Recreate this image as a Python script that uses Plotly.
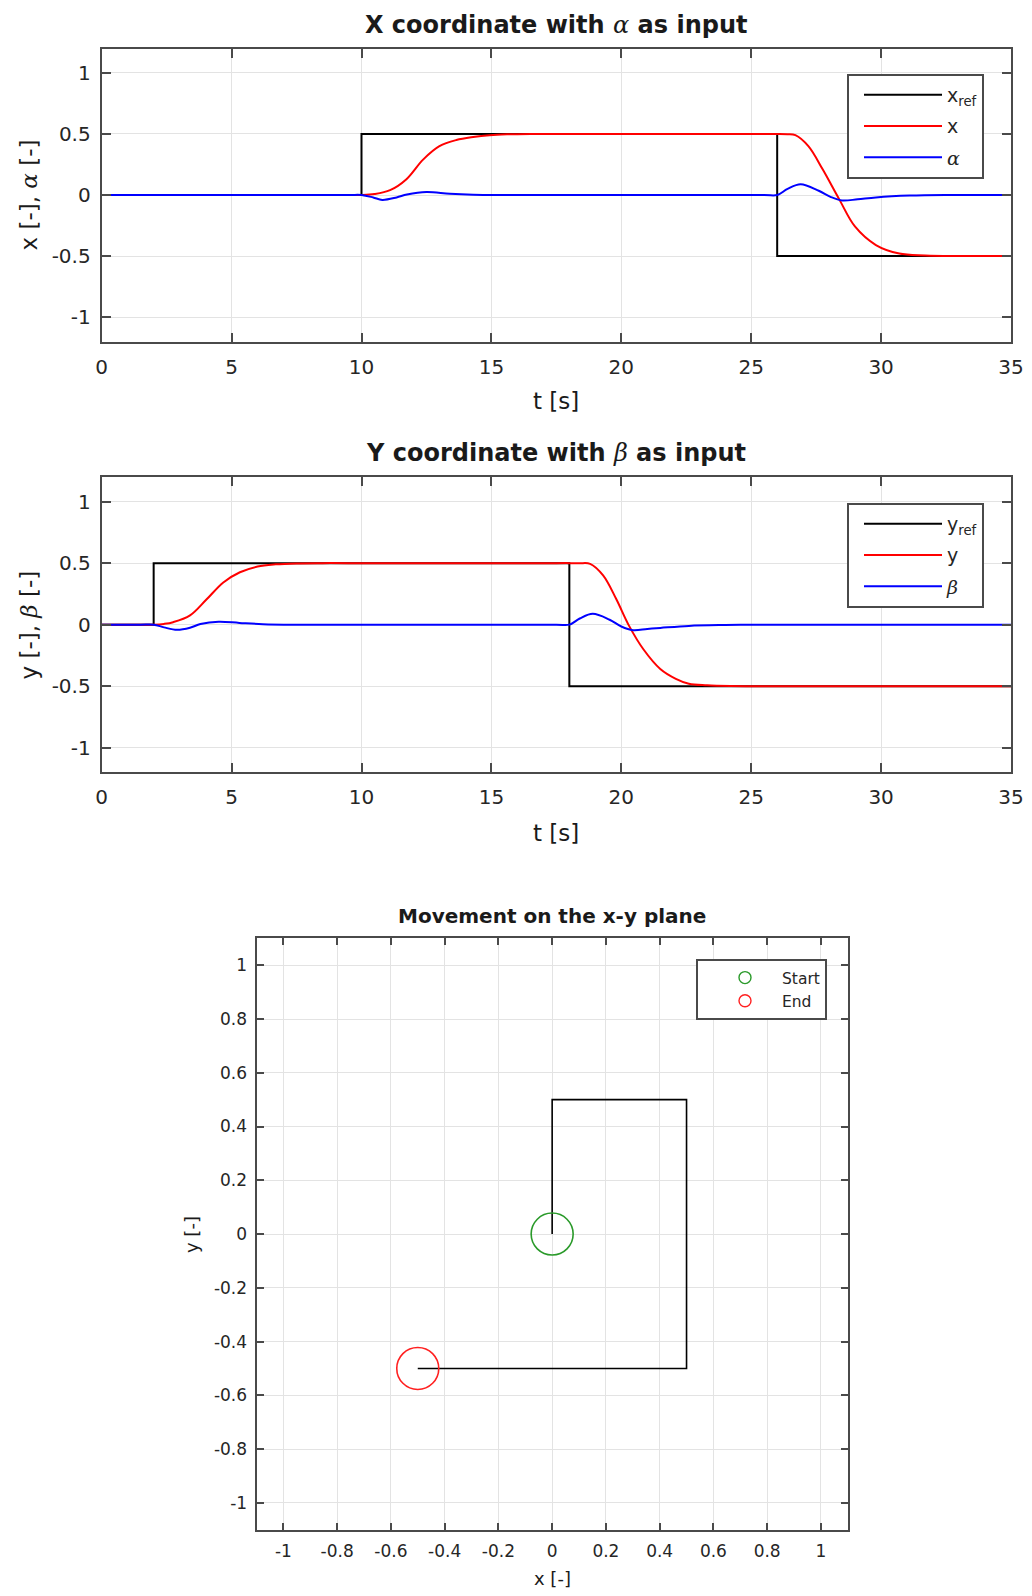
import plotly.graph_objects as go

# page is 1032x1596; the browser body has an 8px margin, so the figure is 1024x1580
PAGE_OFF = 8
W, H = 1024, 1580
FONT = "DejaVu Sans"
AX = "#4a4a4a"
GRID = "#e3e3e3"

# ---------------- data: X coordinate (plot 1) ----------------
t_xref = [0, 10, 10, 26, 26, 35]
xref = [0, 0, 0.5, 0.5, -0.5, -0.5]

t_x = [0, 9.5, 10, 10.5, 11.1, 11.73, 12.37, 13.0, 13.65, 14.3, 14.93, 15.6, 16.5, 17.5,
       25.5, 26, 26.4, 26.7, 27.2, 27.75, 28.4, 29.0, 29.8, 30.7, 31.7, 32.7, 33.7, 35]
x_val = [0, 0, 0, 0.008, 0.04, 0.13, 0.29, 0.40, 0.45, 0.475, 0.49, 0.497, 0.5, 0.5,
         0.5, 0.5, 0.498, 0.49, 0.40, 0.21, -0.04, -0.26, -0.41, -0.48, -0.495, -0.5, -0.5, -0.5]

t_alpha = [0, 9.5, 10, 10.45, 10.8, 11.35, 11.75, 12.5, 13.4, 14.3, 15.5, 16.5,
           25.5, 26, 26.4, 26.9, 27.6, 28.05, 28.5, 29.1, 29.8, 31.1, 32.5, 33.5, 35]
alpha = [0, 0, 0, -0.02, -0.04, -0.02, 0.004, 0.025, 0.01, 0.002, 0, 0,
         0, 0, 0.05, 0.088, 0.035, -0.015, -0.045, -0.035, -0.02, -0.005, 0, 0, 0]

# ---------------- data: Y coordinate (plot 2) ----------------
t_yref = [0, 2, 2, 18, 18, 35]
yref = [0, 0, 0.5, 0.5, -0.5, -0.5]

t_y = [0, 1.5, 2, 2.4, 2.75, 3.4, 4.04, 4.68, 5.32, 6.0, 6.7, 7.5, 8.5, 9.5,
       17.5, 18, 18.4, 18.8, 19.3, 19.8, 20.3, 20.85, 21.5, 22.1, 22.6, 23.3, 24.2, 25.0, 26.0, 35]
y_val = [0, 0, 0, 0.006, 0.02, 0.075, 0.206, 0.343, 0.426, 0.472, 0.49, 0.498, 0.5, 0.5,
         0.5, 0.5, 0.499, 0.494, 0.40, 0.21, -0.01, -0.2, -0.36, -0.44, -0.48, -0.493, -0.499, -0.5, -0.5, -0.5]

t_beta = [0, 1.5, 2, 2.4, 2.9, 3.4, 3.8, 4.5, 5.3, 6.2, 7.5, 8.5,
          17.5, 18, 18.4, 18.9, 19.55, 20.0, 20.45, 21.0, 21.5, 22.6, 24.0, 25.5, 26.5, 35]
beta = [0, 0, 0, -0.022, -0.042, -0.025, 0.005, 0.024, 0.014, 0.004, 0, 0,
        0, 0, 0.05, 0.088, 0.04, -0.015, -0.045, -0.035, -0.027, -0.01, -0.003, 0, 0, 0]

# ---------------- data: x-y plane (plot 3) ----------------
path_x = [0, 0, 0.5, 0.5, -0.5]
path_y = [0, 0.5, 0.5, -0.5, -0.5]
start_pt = (0, 0)
end_pt = (-0.5, -0.5)

# ---------------- ticks ----------------
t_ticks = [0, 5, 10, 15, 20, 25, 30, 35]
t_ticktext = ["0", "5", "10", "15", "20", "25", "30", "35"]
v_ticks = [-1, -0.5, 0, 0.5, 1]
v_ticktext = ["-1", "-0.5", "0", "0.5", "1"]
p_ticks = [-1, -0.8, -0.6, -0.4, -0.2, 0, 0.2, 0.4, 0.6, 0.8, 1]
p_ticktext = ["-1", "-0.8", "-0.6", "-0.4", "-0.2", "0", "0.2", "0.4", "0.6", "0.8", "1"]


def px(x):
    return (x - PAGE_OFF) / W


def py(y):
    return 1 - (y - PAGE_OFF) / H


A = "<span style='font-family:DejaVu Serif'><i>α</i></span>"
B = "<span style='font-family:DejaVu Serif'><i>β</i></span>"

fig = go.Figure()

# plot 1
fig.add_trace(go.Scatter(x=t_xref, y=xref, mode="lines", line=dict(color="black", width=2),
                         name="x<sub>ref</sub>", legendgroup="a1", xaxis="x", yaxis="y", legend="legend"))
fig.add_trace(go.Scatter(x=t_x, y=x_val, mode="lines", line=dict(color="#ff0000", width=2, shape="spline"),
                         name="x", legendgroup="a2", xaxis="x", yaxis="y", legend="legend"))
fig.add_trace(go.Scatter(x=t_alpha, y=alpha, mode="lines", line=dict(color="#0000ff", width=2, shape="spline"),
                         name=A, legendgroup="a3", xaxis="x", yaxis="y", legend="legend"))
# plot 2
fig.add_trace(go.Scatter(x=t_yref, y=yref, mode="lines", line=dict(color="black", width=2),
                         name="y<sub>ref</sub>", legendgroup="b1", xaxis="x2", yaxis="y2", legend="legend2"))
fig.add_trace(go.Scatter(x=t_y, y=y_val, mode="lines", line=dict(color="#ff0000", width=2, shape="spline"),
                         name="y", legendgroup="b2", xaxis="x2", yaxis="y2", legend="legend2"))
fig.add_trace(go.Scatter(x=t_beta, y=beta, mode="lines", line=dict(color="#0000ff", width=2, shape="spline"),
                         name=B, legendgroup="b3", xaxis="x2", yaxis="y2", legend="legend2"))
# plot 3
fig.add_trace(go.Scatter(x=path_x, y=path_y, mode="lines", line=dict(color="black", width=1.6),
                         showlegend=False, xaxis="x3", yaxis="y3"))
fig.add_trace(go.Scatter(x=[start_pt[0]], y=[start_pt[1]], mode="markers",
                         marker=dict(symbol="circle-open", size=42, color="#2a9a2a", line=dict(width=1.6)),
                         showlegend=False, xaxis="x3", yaxis="y3"))
fig.add_trace(go.Scatter(x=[end_pt[0]], y=[end_pt[1]], mode="markers",
                         marker=dict(symbol="circle-open", size=42, color="#ff2020", line=dict(width=1.6)),
                         showlegend=False, xaxis="x3", yaxis="y3"))
fig.add_trace(go.Scatter(x=[None], y=[None], mode="markers",
                         marker=dict(symbol="circle-open", size=12, color="#2a9a2a", line=dict(width=1.4)),
                         name="Start", xaxis="x3", yaxis="y3", legend="legend3"))
fig.add_trace(go.Scatter(x=[None], y=[None], mode="markers",
                         marker=dict(symbol="circle-open", size=12, color="#ff2020", line=dict(width=1.4)),
                         name="End", xaxis="x3", yaxis="y3", legend="legend3"))

common = dict(showline=True, linecolor=AX, linewidth=2, mirror="ticks", ticks="inside",
              tickcolor=AX, tickwidth=1.5, showgrid=True, gridcolor=GRID, gridwidth=1,
              zeroline=False, automargin=False,
              tickfont=dict(family=FONT, size=20, color="#262626"))

ax1x = dict(common, domain=[px(101.7), px(1011)], range=[0, 35], tickvals=t_ticks,
            ticktext=t_ticktext, ticklen=9, anchor="y", ticklabelstandoff=6)
ax1y = dict(common, domain=[py(341.5), py(48.5)], range=[-1.2, 1.2], tickvals=v_ticks,
            ticktext=v_ticktext, ticklen=9, anchor="x", ticklabelstandoff=5)
ax2x = dict(common, domain=[px(101.7), px(1011)], range=[0, 35], tickvals=t_ticks,
            ticktext=t_ticktext, ticklen=9, anchor="y2", ticklabelstandoff=6)
ax2y = dict(common, domain=[py(772.3), py(477)], range=[-1.2, 1.2], tickvals=v_ticks,
            ticktext=v_ticktext, ticklen=9, anchor="x2", ticklabelstandoff=5)
c3 = dict(common, tickfont=dict(family=FONT, size=17, color="#262626"))
ax3x = dict(c3, domain=[px(256.5), px(847.8)], range=[-1.1, 1.1], tickvals=p_ticks,
            ticktext=p_ticktext, ticklen=7, anchor="y3", ticklabelstandoff=5)
ax3y = dict(c3, domain=[py(1529.7), py(938.4)], range=[-1.1, 1.1], tickvals=p_ticks,
            ticktext=p_ticktext, ticklen=7, anchor="x3", ticklabelstandoff=4)

leg_common = dict(xref="paper", yref="paper", xanchor="left", yanchor="top",
                  bgcolor="white", bordercolor=AX, borderwidth=2,
                  font=dict(family=FONT, size=19, color="#262626"), itemwidth=78,
                  indentation=10, traceorder="grouped", tracegroupgap=3.5)

ann = []


def label(text, x, y, size, angle=0):
    ann.append(dict(text=text, x=px(x), y=py(y), xref="paper", yref="paper",
                    xanchor="center", yanchor="middle", showarrow=False, textangle=angle,
                    font=dict(family=FONT, size=size, color="#1a1a1a")))


label("<b>X coordinate with </b>" + A + "<b> as input</b>", 556, 25.4, 24)
label("t [s]", 556, 401, 23)
label("x [-], " + A + " [-]", 28.5, 195, 23, angle=-90)
label("<b>Y coordinate with </b>" + B + "<b> as input</b>", 556, 453, 24)
label("t [s]", 556, 832.5, 23)
label("y [-], " + B + " [-]", 28.5, 625, 23, angle=-90)
label("<b>Movement on the x-y plane</b>", 552, 916, 20)
label("x [-]", 552.6, 1578.5, 18)
label("y [-]", 191.4, 1234.6, 18, angle=-90)

fig.update_layout(
    width=W, height=H, margin=dict(l=0, r=0, t=0, b=0, autoexpand=False),
    paper_bgcolor="white", plot_bgcolor="white",
    font=dict(family=FONT, color="#262626"),
    xaxis=ax1x, yaxis=ax1y, xaxis2=ax2x, yaxis2=ax2y, xaxis3=ax3x, yaxis3=ax3y,
    legend=dict(leg_common, x=px(847), y=py(74)),
    legend2=dict(leg_common, x=px(847), y=py(503)),
    legend3=dict(leg_common, x=px(696), y=py(959), itemwidth=64, indentation=10,
                 traceorder="normal", tracegroupgap=0,
                 font=dict(family=FONT, size=15.5, color="#262626")),
    annotations=ann,
)

fig.write_html("out.html")
